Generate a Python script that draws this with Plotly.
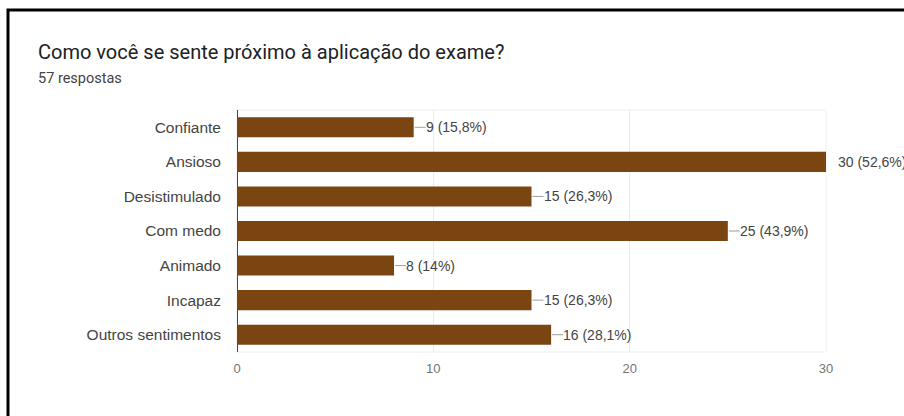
import plotly.graph_objects as go

# Survey answers
categories = ["Confiante", "Ansioso", "Desistimulado", "Com medo", "Animado", "Incapaz", "Outros sentimentos"]
counts = [9, 30, 15, 25, 8, 15, 16]
percent_labels = ["15,8%", "52,6%", "26,3%", "43,9%", "14%", "26,3%", "28,1%"]
x_ticks = [0, 10, 20, 30]

title_text = "Como você se sente próximo à aplicação do exame?"
subtitle_text = "57 respostas"

BAR_COLOR = "#7a4511"
TEXT_COLOR = "#444444"
LABEL_FONT = "Liberation Sans, Arial, sans-serif"
X_MAX = 30

W, H = 904, 416
L, R, T, B = 237, 78, 110, 64
plot_w = W - L - R
plot_h = H - T - B
px_per_unit = plot_w / X_MAX

fig = go.Figure()

fig.add_trace(go.Bar(
    x=counts,
    y=categories,
    orientation="h",
    marker=dict(color=BAR_COLOR, line=dict(width=0)),
    hoverinfo="skip",
    showlegend=False,
))

# short leader lines from bar ends to their value labels
lead_x, lead_y = [], []
for cat, v in zip(categories, counts):
    if v < X_MAX:
        lead_x += [v + 1 / px_per_unit, v + 12 / px_per_unit, None]
        lead_y += [cat, cat, None]
fig.add_trace(go.Scatter(
    x=lead_x, y=lead_y, mode="lines",
    line=dict(color="#9e9e9e", width=1),
    hoverinfo="skip", showlegend=False, cliponaxis=False,
))

annotations = []
for cat, v, p in zip(categories, counts, percent_labels):
    annotations.append(dict(
        x=v, y=cat, xref="x", yref="y",
        text=f"{v} ({p})", showarrow=False,
        xanchor="left", yanchor="middle", xshift=11, borderpad=0,
        font=dict(family=LABEL_FONT, size=14, color=TEXT_COLOR),
    ))

# heading
annotations.append(dict(
    x=(37 - L) / plot_w, y=(H - B - 52) / plot_h, xref="paper", yref="paper",
    text=title_text, showarrow=False, xanchor="left", yanchor="middle", borderpad=0,
    font=dict(family="Roboto, Arial, sans-serif", size=20, color="#202124"),
))
annotations.append(dict(
    x=(37 - L) / plot_w, y=(H - B - 78) / plot_h, xref="paper", yref="paper",
    text=subtitle_text, showarrow=False, xanchor="left", yanchor="middle", borderpad=0,
    font=dict(family="Roboto, Arial, sans-serif", size=14.5, color="#444444"),
))

def px_to_paper_x(px):
    return (px - L) / plot_w

def px_to_paper_y(py):
    return (H - B - py) / plot_h

shapes = [
    # faint plot frame
    dict(type="rect", xref="paper", yref="paper", x0=0, x1=1, y0=0, y1=1,
         line=dict(color="#efefef", width=1), layer="below"),
    # outer black frame (top and left edges)
    dict(type="rect", xref="paper", yref="paper",
         x0=px_to_paper_x(8), x1=px_to_paper_x(W + 40),
         y0=px_to_paper_y(H + 40), y1=px_to_paper_y(10),
         line=dict(color="#000000", width=3), layer="below"),
]

fig.update_layout(
    width=W, height=H,
    margin=dict(l=L, r=R, t=T, b=B, pad=0),
    paper_bgcolor="white", plot_bgcolor="white",
    bargap=0.42,
    annotations=annotations,
    shapes=shapes,
    xaxis=dict(
        range=[0, X_MAX], tickvals=x_ticks, ticktext=[str(t) for t in x_ticks],
        showgrid=True, gridcolor="#ebebeb", gridwidth=1,
        zeroline=True, zerolinecolor="#3c4a5a", zerolinewidth=1,
        showline=False, ticks="", ticklabelstandoff=7,
        tickfont=dict(family=LABEL_FONT, size=13, color="#757575"),
        fixedrange=True,
    ),
    yaxis=dict(
        categoryorder="array", categoryarray=categories, autorange="reversed",
        showgrid=False, zeroline=False, showline=False, ticks="",
        ticklabelstandoff=15,
        tickfont=dict(family=LABEL_FONT, size=15.5, color=TEXT_COLOR),
        fixedrange=True,
    ),
)

fig.write_html(
    "out.html",
    config={"displayModeBar": False},
    post_script="document.body.style.margin='0';document.documentElement.style.overflow='hidden';",
)
